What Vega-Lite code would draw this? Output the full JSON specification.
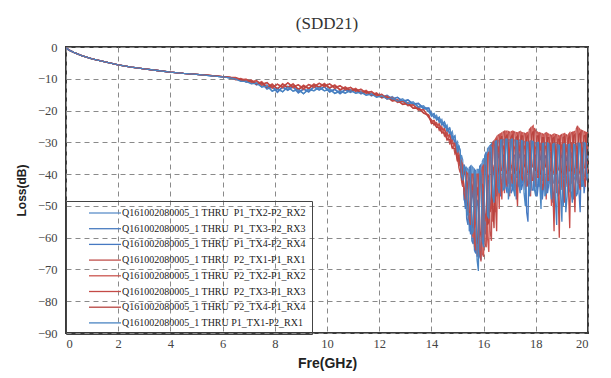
{
"$schema": "https://vega.github.io/schema/vega-lite/v6.json",
"width": 522, "height": 286,
"autosize": {"type": "none"},
"padding": {"left": 66, "top": 47, "right": 23, "bottom": 45},
"background": "white",
"title": {"text": "(SDD21)", "font": "Liberation Serif", "fontSize": 17, "fontWeight": "normal", "color": "#333333", "anchor": "middle", "frame": "group", "offset": 8},
"data": {"values": [
{"x":0,"a":-0.2,"b":-0.2,"c":-0.2,"d":-0.2,"e":-0.2,"f":-0.2,"g":-0.2,"h":-0.2},
{"x":0.1,"a":-0.9,"b":-0.9,"c":-0.9,"d":-0.9,"e":-0.9,"f":-0.9,"g":-0.9,"h":-0.9},
{"x":0.3,"a":-1.7,"b":-1.7,"c":-1.7,"d":-1.7,"e":-1.7,"f":-1.7,"g":-1.7,"h":-1.7},
{"x":0.6,"a":-2.7,"b":-2.7,"c":-2.7,"d":-2.7,"e":-2.7,"f":-2.7,"g":-2.7,"h":-2.7},
{"x":1,"a":-3.7,"b":-3.7,"c":-3.7,"d":-3.7,"e":-3.7,"f":-3.7,"g":-3.7,"h":-3.7},
{"x":1.5,"a":-4.7,"b":-4.7,"c":-4.7,"d":-4.7,"e":-4.7,"f":-4.7,"g":-4.7,"h":-4.7},
{"x":2,"a":-5.6,"b":-5.6,"c":-5.6,"d":-5.6,"e":-5.6,"f":-5.6,"g":-5.6,"h":-5.6},
{"x":2.5,"a":-6.3,"b":-6.3,"c":-6.3,"d":-6.3,"e":-6.3,"f":-6.3,"g":-6.3,"h":-6.3},
{"x":3,"a":-6.9,"b":-6.9,"c":-6.9,"d":-6.9,"e":-6.9,"f":-6.9,"g":-6.9,"h":-6.9},
{"x":3.5,"a":-7.4,"b":-7.4,"c":-7.4,"d":-7.4,"e":-7.4,"f":-7.4,"g":-7.4,"h":-7.4},
{"x":4,"a":-7.9,"b":-7.9,"c":-7.9,"d":-7.9,"e":-7.9,"f":-7.9,"g":-7.9,"h":-7.9},
{"x":4.5,"a":-8.3,"b":-8.3,"c":-8.3,"d":-8.3,"e":-8.3,"f":-8.3,"g":-8.3,"h":-8.3},
{"x":5,"a":-8.6,"b":-8.6,"c":-8.6,"d":-8.6,"e":-8.6,"f":-8.6,"g":-8.6,"h":-8.6},
{"x":5.5,"a":-9.0,"b":-9.0,"c":-9.0,"d":-8.9,"e":-8.9,"f":-8.9,"g":-8.9,"h":-9.0},
{"x":6,"a":-9.4,"b":-9.4,"c":-9.4,"d":-9.3,"e":-9.3,"f":-9.3,"g":-9.3,"h":-9.4},
{"x":6.3,"a":-9.7,"b":-9.7,"c":-9.7,"d":-9.6,"e":-9.6,"f":-9.6,"g":-9.6,"h":-9.7},
{"x":6.5,"a":-9.8,"b":-10.2,"c":-10.0,"d":-9.7,"e":-10.1,"f":-9.6,"g":-10.3,"h":-10.1},
{"x":6.7,"a":-10.7,"b":-10.1,"c":-10.0,"d":-10.5,"e":-9.9,"f":-10.2,"g":-10.2,"h":-10.8},
{"x":6.9,"a":-10.5,"b":-11.1,"c":-10.8,"d":-10.2,"e":-10.8,"f":-10.1,"g":-10.9,"h":-10.8},
{"x":7.1,"a":-11.5,"b":-10.7,"c":-10.6,"d":-11.2,"e":-10.4,"f":-10.9,"g":-10.7,"h":-11.6},
{"x":7.3,"a":-11.0,"b":-12.0,"c":-11.7,"d":-10.6,"e":-11.6,"f":-10.6,"g":-11.7,"h":-11.4},
{"x":7.5,"a":-12.6,"b":-11.4,"c":-11.3,"d":-12.1,"e":-10.9,"f":-11.7,"g":-11.2,"h":-12.6},
{"x":7.7,"a":-11.9,"b":-13.3,"c":-13.0,"d":-11.2,"e":-12.6,"f":-11.2,"g":-12.7,"h":-12.3},
{"x":7.9,"a":-13.9,"b":-12.5,"c":-12.4,"d":-13.0,"e":-11.6,"f":-12.6,"g":-11.9,"h":-13.9},
{"x":8.1,"a":-12.9,"b":-14.3,"c":-14.0,"d":-11.7,"e":-13.1,"f":-11.7,"g":-13.2,"h":-13.3},
{"x":8.3,"a":-14.1,"b":-12.7,"c":-12.6,"d":-12.9,"e":-11.5,"f":-12.5,"g":-11.8,"h":-14.1},
{"x":8.5,"a":-12.3,"b":-13.7,"c":-13.4,"d":-11.3,"e":-12.7,"f":-11.3,"g":-12.8,"h":-12.7},
{"x":8.7,"a":-13.9,"b":-12.5,"c":-12.4,"d":-12.9,"e":-11.5,"f":-12.5,"g":-11.8,"h":-13.9},
{"x":8.9,"a":-13.1,"b":-14.5,"c":-14.2,"d":-11.9,"e":-13.3,"f":-11.9,"g":-13.4,"h":-13.5},
{"x":9.1,"a":-14.7,"b":-13.3,"c":-13.2,"d":-13.4,"e":-12.0,"f":-13.0,"g":-12.3,"h":-14.7},
{"x":9.3,"a":-13.0,"b":-14.2,"c":-13.9,"d":-11.8,"e":-13.0,"f":-11.8,"g":-13.1,"h":-13.4},
{"x":9.5,"a":-13.8,"b":-12.6,"c":-12.5,"d":-12.8,"e":-11.6,"f":-12.4,"g":-11.9,"h":-13.8},
{"x":9.7,"a":-12.4,"b":-13.6,"c":-13.3,"d":-11.4,"e":-12.6,"f":-11.4,"g":-12.7,"h":-12.8},
{"x":9.9,"a":-13.8,"b":-12.6,"c":-12.5,"d":-12.6,"e":-11.4,"f":-12.2,"g":-11.7,"h":-13.8},
{"x":10.1,"a":-13.0,"b":-14.2,"c":-13.9,"d":-11.6,"e":-12.8,"f":-11.6,"g":-12.9,"h":-13.4},
{"x":10.3,"a":-14.6,"b":-13.4,"c":-13.3,"d":-13.1,"e":-11.9,"f":-12.7,"g":-12.2,"h":-14.6},
{"x":10.5,"a":-13.6,"b":-14.8,"c":-14.5,"d":-12.2,"e":-13.4,"f":-12.2,"g":-13.5,"h":-14.0},
{"x":10.7,"a":-14.5,"b":-13.5,"c":-13.4,"d":-13.5,"e":-12.5,"f":-13.2,"g":-12.8,"h":-14.6},
{"x":10.9,"a":-13.3,"b":-14.3,"c":-14.0,"d":-12.7,"e":-13.7,"f":-12.7,"g":-13.8,"h":-13.7},
{"x":11.1,"a":-14.5,"b":-13.5,"c":-13.4,"d":-14.0,"e":-13.0,"f":-13.7,"g":-13.3,"h":-14.6},
{"x":11.3,"a":-13.8,"b":-14.8,"c":-14.5,"d":-13.3,"e":-14.3,"f":-13.3,"g":-14.4,"h":-14.2},
{"x":11.5,"a":-15.1,"b":-14.1,"c":-14.0,"d":-14.6,"e":-13.6,"f":-14.3,"g":-13.9,"h":-15.2},
{"x":11.7,"a":-14.4,"b":-15.4,"c":-15.1,"d":-14.0,"e":-15.0,"f":-14.0,"g":-15.1,"h":-14.8},
{"x":11.9,"a":-15.7,"b":-14.7,"c":-14.6,"d":-15.4,"e":-14.4,"f":-15.1,"g":-14.7,"h":-15.8},
{"x":12.1,"a":-15.0,"b":-16.0,"c":-15.7,"d":-14.9,"e":-15.9,"f":-14.9,"g":-16.0,"h":-15.4},
{"x":12.3,"a":-16.3,"b":-15.3,"c":-15.2,"d":-16.4,"e":-15.4,"f":-16.1,"g":-15.7,"h":-16.4},
{"x":12.5,"a":-15.6,"b":-16.6,"c":-16.3,"d":-15.9,"e":-16.9,"f":-15.9,"g":-17.0,"h":-16.0},
{"x":12.7,"a":-16.9,"b":-15.9,"c":-15.8,"d":-17.5,"e":-16.5,"f":-17.2,"g":-16.8,"h":-17.0},
{"x":12.9,"a":-16.3,"b":-17.3,"c":-17.0,"d":-17.0,"e":-18.0,"f":-17.0,"g":-18.1,"h":-16.7},
{"x":13.1,"a":-17.7,"b":-16.7,"c":-16.6,"d":-18.5,"e":-17.5,"f":-18.2,"g":-17.8,"h":-17.8},
{"x":13.3,"a":-17.2,"b":-18.2,"c":-17.9,"d":-18.2,"e":-19.2,"f":-18.2,"g":-19.3,"h":-17.6},
{"x":13.5,"a":-18.8,"b":-17.8,"c":-17.7,"d":-19.9,"e":-18.9,"f":-19.6,"g":-19.2,"h":-18.9},
{"x":13.7,"a":-18.5,"b":-19.5,"c":-19.2,"d":-19.7,"e":-20.7,"f":-19.7,"g":-20.8,"h":-18.9},
{"x":13.9,"a":-20.3,"b":-19.3,"c":-19.2,"d":-22.3,"e":-21.3,"f":-22.0,"g":-21.6,"h":-20.4},
{"x":14.0,"a":-20.5,"b":-21.8,"c":-21.1,"d":-22.8,"e":-24.0,"f":-23.4,"g":-24.0,"h":-21.5},
{"x":14.1,"a":-22.4,"b":-21.0,"c":-22.0,"d":-24.6,"e":-23.3,"f":-23.1,"g":-24.0,"h":-21.0},
{"x":14.2,"a":-21.5,"b":-23.0,"c":-22.2,"d":-23.8,"e":-25.3,"f":-24.5,"g":-25.3,"h":-22.7},
{"x":14.3,"a":-23.8,"b":-22.1,"c":-23.2,"d":-26.2,"e":-24.4,"f":-24.2,"g":-25.3,"h":-22.1},
{"x":14.4,"a":-22.8,"b":-24.6,"c":-23.7,"d":-25.1,"e":-27.0,"f":-26.0,"g":-27.0,"h":-24.3},
{"x":14.5,"a":-25.5,"b":-23.6,"c":-24.8,"d":-28.0,"e":-25.9,"f":-25.7,"g":-27.0,"h":-23.6},
{"x":14.6,"a":-24.5,"b":-26.6,"c":-25.5,"d":-26.8,"e":-29.2,"f":-28.0,"g":-29.2,"h":-26.3},
{"x":14.7,"a":-27.8,"b":-25.5,"c":-27.0,"d":-30.4,"e":-27.8,"f":-27.6,"g":-29.1,"h":-25.5},
{"x":14.8,"a":-26.6,"b":-29.2,"c":-27.9,"d":-29.0,"e":-31.8,"f":-30.4,"g":-31.8,"h":-28.9},
{"x":14.9,"a":-31.0,"b":-28.0,"c":-29.8,"d":-33.6,"e":-30.5,"f":-30.3,"g":-32.0,"h":-28.0},
{"x":15.0,"a":-29.8,"b":-33.5,"c":-31.6,"d":-32.3,"e":-36.0,"f":-34.1,"g":-36.0,"h":-33.2},
{"x":15.1,"a":-37.5,"b":-32.5,"c":-35.3,"d":-39.5,"e":-34.5,"f":-34.3,"g":-37.0,"h":-32.5},
{"x":15.2,"a":-35.5,"b":-44.0,"c":-39.5,"d":-37.0,"e":-44.0,"f":-40.5,"g":-43.0,"h":-42.0},
{"x":15.3,"a":-49.0,"b":-38.0,"c":-51.0,"d":-48.0,"e":-39.0,"f":-46.0,"g":-40.0,"h":-39.0},
{"x":15.4,"a":-38.5,"b":-56.0,"c":-45.0,"d":-40.0,"e":-52.0,"f":-44.0,"g":-50.0,"h":-53.0},
{"x":15.5,"a":-57.0,"b":-37.5,"c":-59.0,"d":-56.0,"e":-40.5,"f":-52.0,"g":-42.0,"h":-40.0},
{"x":15.6,"a":-38.0,"b":-62.0,"c":-48.0,"d":-40.0,"e":-60.0,"f":-45.0,"g":-57.0,"h":-58.0},
{"x":15.7,"a":-60.0,"b":-39.0,"c":-65.0,"d":-64.0,"e":-40.5,"f":-55.0,"g":-43.0,"h":-41.0},
{"x":15.8,"a":-38.5,"b":-62.0,"c":-50.0,"d":-40.0,"e":-66.0,"f":-47.0,"g":-60.0,"h":-70.5},
{"x":15.9,"a":-64.0,"b":-37.0,"c":-67.0,"d":-67.5,"e":-39.0,"f":-58.0,"g":-41.0,"h":-40.0},
{"x":16.0,"a":-35.0,"b":-60.0,"c":-45.0,"d":-37.0,"e":-66.0,"f":-44.0,"g":-58.0,"h":-63.0},
{"x":16.1,"a":-55.0,"b":-33.0,"c":-58.0,"d":-63.0,"e":-35.0,"f":-52.0,"g":-38.0,"h":-34.0},
{"x":16.2,"a":-31.5,"b":-52.0,"c":-42.0,"d":-33.0,"e":-64.5,"f":-41.0,"g":-55.0,"h":-54.0},
{"x":16.3,"a":-49.0,"b":-30.5,"c":-51.0,"d":-61.0,"e":-31.0,"f":-50.0,"g":-34.0,"h":-31.5},
{"x":16.4,"a":-29.8,"b":-47.0,"c":-40.0,"d":-29.5,"e":-52.0,"f":-39.0,"g":-57.0,"h":-49.0},
{"x":16.5,"a":-43.0,"b":-30.0,"c":-47.0,"d":-40.0,"e":-28.3,"f":-58.0,"g":-29.3,"h":-29.5},
{"x":16.6,"a":-29.3,"b":-42.0,"c":-35.0,"d":-27.5,"e":-51.0,"f":-33.0,"g":-40.0,"h":-46.0},
{"x":16.7,"a":-41.5,"b":-29.7,"c":-45.0,"d":-39.0,"e":-27.0,"f":-48.0,"g":-28.0,"h":-29.2},
{"x":16.8,"a":-29.0,"b":-43.0,"c":-34.0,"d":-26.5,"e":-46.0,"f":-32.0,"g":-39.0,"h":-44.5},
{"x":16.9,"a":-42.0,"b":-29.5,"c":-46.0,"d":-40.0,"e":-26.5,"f":-44.0,"g":-27.5,"h":-29.0},
{"x":17.0,"a":-29.2,"b":-41.0,"c":-35.0,"d":-26.8,"e":-47.0,"f":-33.0,"g":-38.0,"h":-44.0},
{"x":17.1,"a":-43.0,"b":-29.5,"c":-45.0,"d":-39.0,"e":-26.5,"f":-43.0,"g":-27.5,"h":-29.0},
{"x":17.2,"a":-29.3,"b":-42.0,"c":-34.0,"d":-26.8,"e":-45.0,"f":-32.0,"g":-40.0,"h":-47.0},
{"x":17.3,"a":-41.0,"b":-30.0,"c":-44.0,"d":-38.0,"e":-27.0,"f":-50.0,"g":-28.0,"h":-29.5},
{"x":17.4,"a":-29.2,"b":-43.0,"c":-35.0,"d":-26.6,"e":-44.0,"f":-33.0,"g":-39.0,"h":-46.0},
{"x":17.5,"a":-42.0,"b":-30.1,"c":-43.0,"d":-40.0,"e":-27.0,"f":-42.0,"g":-28.0,"h":-29.6},
{"x":17.6,"a":-29.8,"b":-41.0,"c":-34.0,"d":-27.3,"e":-45.0,"f":-32.0,"g":-38.0,"h":-50.0},
{"x":17.7,"a":-42.0,"b":-30.5,"c":-55.0,"d":-39.0,"e":-26.8,"f":-43.0,"g":-27.8,"h":-30.0},
{"x":17.8,"a":-29.5,"b":-43.0,"c":-35.0,"d":-25.5,"e":-47.0,"f":-33.0,"g":-40.0,"h":-44.0},
{"x":17.9,"a":-41.0,"b":-30.3,"c":-45.0,"d":-38.0,"e":-24.8,"f":-42.0,"g":-26.5,"h":-29.8},
{"x":18.0,"a":-30.2,"b":-42.0,"c":-34.0,"d":-26.5,"e":-44.0,"f":-32.0,"g":-39.0,"h":-47.0},
{"x":18.1,"a":-44.0,"b":-30.5,"c":-43.0,"d":-40.0,"e":-27.0,"f":-41.0,"g":-28.0,"h":-30.0},
{"x":18.2,"a":-30.5,"b":-42.0,"c":-36.0,"d":-27.2,"e":-46.0,"f":-33.0,"g":-40.0,"h":-51.0},
{"x":18.3,"a":-42.0,"b":-30.8,"c":-44.0,"d":-39.0,"e":-27.5,"f":-43.0,"g":-28.5,"h":-30.3},
{"x":18.4,"a":-30.0,"b":-43.0,"c":-35.0,"d":-27.0,"e":-48.0,"f":-32.0,"g":-38.0,"h":-46.0},
{"x":18.5,"a":-41.0,"b":-31.0,"c":-43.0,"d":-40.0,"e":-27.5,"f":-42.0,"g":-28.5,"h":-30.5},
{"x":18.6,"a":-30.8,"b":-42.0,"c":-35.0,"d":-27.8,"e":-50.0,"f":-33.0,"g":-39.0,"h":-48.0},
{"x":18.7,"a":-43.0,"b":-30.9,"c":-45.0,"d":-40.0,"e":-27.4,"f":-58.0,"g":-28.4,"h":-30.4},
{"x":18.8,"a":-30.6,"b":-42.0,"c":-36.0,"d":-27.6,"e":-46.0,"f":-33.0,"g":-40.0,"h":-56.0},
{"x":18.9,"a":-42.0,"b":-31.5,"c":-46.0,"d":-39.0,"e":-28.0,"f":-60.0,"g":-29.0,"h":-31.0},
{"x":19.0,"a":-30.8,"b":-43.0,"c":-35.0,"d":-27.5,"e":-45.0,"f":-32.0,"g":-39.0,"h":-55.0},
{"x":19.1,"a":-41.0,"b":-31.0,"c":-44.0,"d":-40.0,"e":-27.2,"f":-49.0,"g":-28.2,"h":-30.5},
{"x":19.2,"a":-30.9,"b":-42.0,"c":-36.0,"d":-27.8,"e":-44.0,"f":-33.0,"g":-40.0,"h":-47.0},
{"x":19.3,"a":-43.0,"b":-31.1,"c":-45.0,"d":-39.0,"e":-27.0,"f":-57.0,"g":-28.0,"h":-30.6},
{"x":19.4,"a":-30.4,"b":-42.0,"c":-35.0,"d":-26.8,"e":-45.0,"f":-32.0,"g":-39.0,"h":-49.0},
{"x":19.5,"a":-41.0,"b":-31.3,"c":-44.0,"d":-40.0,"e":-26.5,"f":-52.0,"g":-27.5,"h":-30.8},
{"x":19.6,"a":-30.2,"b":-42.0,"c":-34.0,"d":-24.8,"e":-43.0,"f":-32.0,"g":-38.0,"h":-46.0},
{"x":19.7,"a":-42.0,"b":-31.0,"c":-52.0,"d":-39.0,"e":-26.0,"f":-45.0,"g":-27.0,"h":-30.5},
{"x":19.8,"a":-30.0,"b":-41.0,"c":-35.0,"d":-26.4,"e":-42.0,"f":-33.0,"g":-38.0,"h":-44.0},
{"x":19.9,"a":-40.0,"b":-30.8,"c":-42.0,"d":-38.0,"e":-26.8,"f":-44.0,"g":-27.8,"h":-30.3},
{"x":20.0,"a":-30.5,"b":-40.0,"c":-35.0,"d":-27.0,"e":-38.0,"f":-32.0,"g":-36.0,"h":-40.0},
{"x":15.05,"a":-35.5,"b":-31.0,"c":-35.0,"d":-38.0,"e":-33.5,"f":-37.5,"g":-34.0,"h":-31.2},
{"x":15.15,"a":-34.0,"b":-41.0,"c":-36.0,"d":-36.0,"e":-42.0,"f":-37.0,"g":-41.0,"h":-40.0},
{"x":15.25,"a":-48.0,"b":-37.0,"c":-46.0,"d":-46.0,"e":-38.0,"f":-44.0,"g":-39.0,"h":-37.5},
{"x":15.35,"a":-38.0,"b":-54.0,"c":-42.0,"d":-39.5,"e":-50.0,"f":-42.0,"g":-49.0,"h":-52.0},
{"x":15.45,"a":-58.0,"b":-38.0,"c":-55.0,"d":-54.0,"e":-40.0,"f":-52.0,"g":-41.0,"h":-38.5},
{"x":15.55,"a":-37.5,"b":-61.0,"c":-44.0,"d":-40.0,"e":-58.0,"f":-43.0,"g":-56.0,"h":-59.0},
{"x":15.65,"a":-63.0,"b":-38.5,"c":-64.0,"d":-62.0,"e":-40.0,"f":-57.0,"g":-41.0,"h":-39.0},
{"x":15.75,"a":-38.5,"b":-66.0,"c":-48.0,"d":-40.0,"e":-65.0,"f":-44.0,"g":-62.0,"h":-67.0},
{"x":15.85,"a":-65.0,"b":-37.5,"c":-66.0,"d":-64.0,"e":-39.5,"f":-60.0,"g":-40.0,"h":-38.0},
{"x":15.95,"a":-36.0,"b":-62.0,"c":-46.0,"d":-38.0,"e":-65.0,"f":-43.0,"g":-60.0,"h":-61.0},
{"x":16.05,"a":-58.0,"b":-34.0,"c":-59.0,"d":-62.0,"e":-36.0,"f":-55.0,"g":-37.0,"h":-34.5},
{"x":16.15,"a":-32.0,"b":-55.0,"c":-42.0,"d":-34.0,"e":-60.0,"f":-40.0,"g":-56.0,"h":-53.0},
{"x":16.25,"a":-50.0,"b":-31.0,"c":-50.0,"d":-58.0,"e":-32.0,"f":-52.0,"g":-33.0,"h":-31.2},
{"x":16.35,"a":-30.0,"b":-48.0,"c":-38.0,"d":-30.0,"e":-55.0,"f":-37.0,"g":-50.0,"h":-47.0},
{"x":16.45,"a":-45.0,"b":-29.6,"c":-46.0,"d":-52.0,"e":-29.0,"f":-48.0,"g":-30.0,"h":-29.7},
{"x":16.55,"a":-29.5,"b":-42.0,"c":-33.0,"d":-27.8,"e":-39.0,"f":-31.0,"g":-38.0,"h":-44.0},
{"x":16.65,"a":-43.0,"b":-29.4,"c":-47.0,"d":-38.0,"e":-27.3,"f":-41.0,"g":-29.0,"h":-29.3},
{"x":16.75,"a":-29.1,"b":-41.0,"c":-34.0,"d":-26.8,"e":-40.0,"f":-31.0,"g":-37.0,"h":-45.0},
{"x":16.85,"a":-42.0,"b":-29.3,"c":-44.0,"d":-39.0,"e":-26.5,"f":-42.0,"g":-28.5,"h":-29.0},
{"x":16.95,"a":-29.1,"b":-43.0,"c":-33.0,"d":-26.6,"e":-38.0,"f":-30.0,"g":-39.0,"h":-48.0},
{"x":17.05,"a":-44.0,"b":-29.4,"c":-46.0,"d":-37.0,"e":-26.7,"f":-40.0,"g":-28.5,"h":-29.1},
{"x":17.15,"a":-29.1,"b":-42.0,"c":-34.0,"d":-26.6,"e":-41.0,"f":-31.0,"g":-38.0,"h":-45.0},
{"x":17.25,"a":-41.0,"b":-29.6,"c":-48.0,"d":-39.0,"e":-26.9,"f":-43.0,"g":-28.5,"h":-29.4},
{"x":17.35,"a":-29.3,"b":-44.0,"c":-33.0,"d":-26.8,"e":-39.0,"f":-30.0,"g":-40.0,"h":-43.0},
{"x":17.45,"a":-43.0,"b":-29.6,"c":-45.0,"d":-38.0,"e":-26.8,"f":-41.0,"g":-28.0,"h":-29.4},
{"x":17.55,"a":-29.7,"b":-42.0,"c":-34.0,"d":-27.1,"e":-40.0,"f":-31.0,"g":-37.0,"h":-46.0},
{"x":17.65,"a":-44.0,"b":-30.0,"c":-52.0,"d":-40.0,"e":-27.0,"f":-44.0,"g":-28.5,"h":-29.9},
{"x":17.75,"a":-29.7,"b":-43.0,"c":-33.0,"d":-26.0,"e":-38.0,"f":-30.0,"g":-39.0,"h":-47.0},
{"x":17.85,"a":-42.0,"b":-29.9,"c":-45.0,"d":-37.0,"e":-25.2,"f":-42.0,"g":-27.5,"h":-29.6},
{"x":17.95,"a":-30.0,"b":-41.0,"c":-34.0,"d":-25.5,"e":-40.0,"f":-31.0,"g":-38.0,"h":-45.0},
{"x":18.05,"a":-43.0,"b":-30.3,"c":-47.0,"d":-39.0,"e":-26.7,"f":-41.0,"g":-28.0,"h":-30.1},
{"x":18.15,"a":-30.2,"b":-44.0,"c":-33.0,"d":-27.0,"e":-39.0,"f":-30.0,"g":-40.0,"h":-43.0},
{"x":18.25,"a":-42.0,"b":-30.6,"c":-48.0,"d":-38.0,"e":-27.3,"f":-45.0,"g":-28.5,"h":-30.4},
{"x":18.35,"a":-30.1,"b":-42.0,"c":-34.0,"d":-27.2,"e":-40.0,"f":-31.0,"g":-37.0,"h":-47.0},
{"x":18.45,"a":-44.0,"b":-30.3,"c":-46.0,"d":-40.0,"e":-27.2,"f":-42.0,"g":-28.5,"h":-30.2},
{"x":18.55,"a":-30.6,"b":-43.0,"c":-33.0,"d":-27.6,"e":-38.0,"f":-30.0,"g":-39.0,"h":-44.0},
{"x":18.65,"a":-42.0,"b":-30.8,"c":-49.0,"d":-39.0,"e":-27.6,"f":-44.0,"g":-28.8,"h":-30.6},
{"x":18.75,"a":-30.5,"b":-41.0,"c":-34.0,"d":-27.5,"e":-41.0,"f":-31.0,"g":-38.0,"h":-48.0},
{"x":18.85,"a":-43.0,"b":-30.8,"c":-47.0,"d":-38.0,"e":-27.8,"f":-43.0,"g":-29.0,"h":-30.8},
{"x":18.95,"a":-30.9,"b":-44.0,"c":-33.0,"d":-27.8,"e":-39.0,"f":-30.0,"g":-40.0,"h":-46.0},
{"x":19.05,"a":-41.0,"b":-30.7,"c":-50.0,"d":-40.0,"e":-27.4,"f":-41.0,"g":-28.5,"h":-30.6},
{"x":19.15,"a":-30.7,"b":-42.0,"c":-34.0,"d":-27.5,"e":-40.0,"f":-31.0,"g":-37.0,"h":-52.0},
{"x":19.25,"a":-44.0,"b":-30.9,"c":-46.0,"d":-39.0,"e":-27.5,"f":-44.0,"g":-28.8,"h":-30.7},
{"x":19.35,"a":-30.5,"b":-43.0,"c":-33.0,"d":-27.0,"e":-38.0,"f":-30.0,"g":-39.0,"h":-45.0},
{"x":19.45,"a":-42.0,"b":-30.6,"c":-48.0,"d":-38.0,"e":-26.7,"f":-42.0,"g":-28.0,"h":-30.6},
{"x":19.55,"a":-30.5,"b":-41.0,"c":-34.0,"d":-25.8,"e":-41.0,"f":-31.0,"g":-38.0,"h":-47.0},
{"x":19.65,"a":-43.0,"b":-30.4,"c":-45.0,"d":-40.0,"e":-25.5,"f":-43.0,"g":-27.5,"h":-30.3},
{"x":19.75,"a":-30.2,"b":-44.0,"c":-33.0,"d":-26.2,"e":-39.0,"f":-30.0,"g":-40.0,"h":-43.0},
{"x":19.85,"a":-41.0,"b":-30.2,"c":-46.0,"d":-38.0,"e":-26.6,"f":-41.0,"g":-28.0,"h":-30.1},
{"x":19.95,"a":-30.4,"b":-42.0,"c":-34.0,"d":-26.9,"e":-40.0,"f":-31.0,"g":-37.0,"h":-41.0}
]},
"transform": [{"fold": ["a","b","c","d","e","f","g","h"], "as": ["k","v"]}],
"mark": {"type": "line", "strokeWidth": 1.3, "clip": true},
"encoding": {
  "x": {"field": "x", "type": "quantitative",
    "scale": {"domain": [0, 20], "nice": false, "zero": false},
    "axis": {"values": [0,2,4,6,8,10,12,14,16,18,20], "title": "Fre(GHz)", "labelPadding": 4, "titlePadding": 7, "titleFontSize": 14}},
  "y": {"field": "v", "type": "quantitative",
    "scale": {"domain": [-90, 0], "nice": false},
    "axis": {"values": [-90,-80,-70,-60,-50,-40,-30,-20,-10,0], "title": "Loss(dB)", "labelPadding": 9, "titlePadding": 9, "titleFontSize": 12}},
  "color": {"field": "k", "type": "nominal",
    "scale": {"domain": ["a","b","c","d","e","f","g","h"], "range": ["#5b8fc9","#4a7dc0","#4679c2","#c0504d","#cc5550","#c44a46","#b8433f","#4a84c2"]},
    "legend": {"orient": "none", "legendX": 0, "legendY": 154, "title": null, "padding": 6, "symbolOffset": 27,
      "symbolType": "M-3.2,0L3.2,0", "symbolSize": 100, "symbolStrokeWidth": 1.3,
      "labelFont": "Liberation Serif", "labelFontSize": 10, "labelColor": "#222222", "labelOffset": 11, "labelLimit": 300,
      "rowPadding": 4.7, "strokeColor": "#444444",
      "labelExpr": "['Q161002080005_1 THRU\u00a0 P1_TX2-P2_RX2','Q161002080005_1 THRU\u00a0 P1_TX3-P2_RX3','Q161002080005_1 THRU\u00a0 P1_TX4-P2_RX4','Q161002080005_1 THRU\u00a0 P2_TX1-P1_RX1','Q161002080005_1 THRU\u00a0 P2_TX2-P1_RX2','Q161002080005_1 THRU\u00a0 P2_TX3-P1_RX3','Q161002080005_1 THRU\u00a0 P2_TX4-P1_RX4','Q161002080005_1 THRU P1_TX1-P2_RX1'][indexof(['a','b','c','d','e','f','g','h'], datum.value)]"}}
},
"config": {
  "view": {"stroke": "#3a3a3a", "strokeWidth": 2},
  "axis": {"domain": false, "ticks": false, "grid": true, "gridColor": "#8a8a8a", "gridDash": [5, 4], "gridWidth": 1,
    "labelFont": "Liberation Serif", "labelFontSize": 12.5, "labelColor": "#444444",
    "titleFont": "Liberation Sans", "titleFontWeight": "bold", "titleColor": "#222222"}
}
}
